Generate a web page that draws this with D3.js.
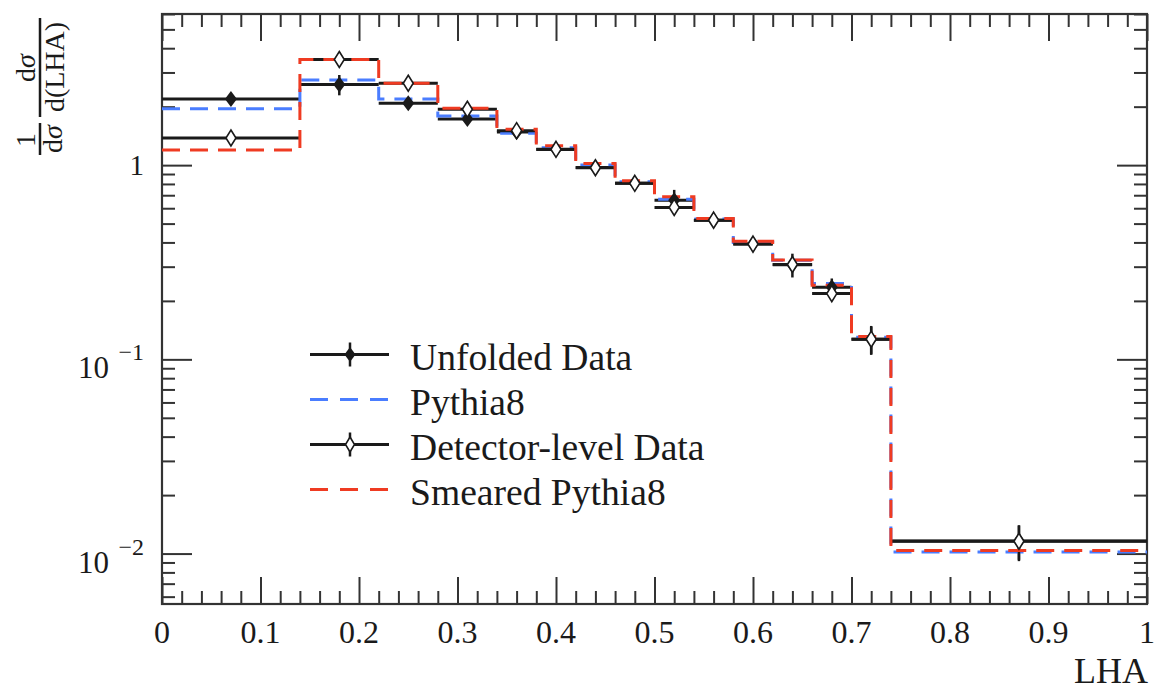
<!DOCTYPE html>
<html><head><meta charset="utf-8">
<script src="https://cdn.jsdelivr.net/npm/d3@7"></script>
<style>body{margin:0;background:#fff;} svg{display:block;}</style>
</head><body><svg id="c" width="1154" height="690"></svg>
<script>
// ---- data ----
const binEdges   = [0,0.14,0.22,0.28,0.34,0.38,0.42,0.46,0.50,0.54,0.58,0.62,0.66,0.70,0.74,1.0];
const binCenters = [0.07,0.18,0.25,0.31,0.36,0.40,0.44,0.48,0.52,0.56,0.60,0.64,0.68,0.72,0.87];
const unfolded    = [2.19,2.60,2.08,1.73,1.48,1.205,0.972,0.806,0.660,0.521,0.392,0.307,0.235,0.127,0.0116];
const unfoldedErr = [0.04,0.12,0.05,0.04,0.04,0.04,0.04,0.05,0.13,0.05,0.06,0.14,0.11,0.17,0.20];
const pythia8     = [1.95,2.74,2.19,1.79,1.46,1.229,1.001,0.820,0.667,0.528,0.400,0.324,0.246,0.130,0.0102];
const detector    = [1.38,3.50,2.64,1.94,1.505,1.206,0.970,0.806,0.606,0.521,0.392,0.308,0.218,0.127,0.01157];
const detectorErr = [0.02,0.02,0.02,0.02,0.02,0.02,0.03,0.03,0.04,0.05,0.05,0.06,0.07,0.16,0.21];
const smeared     = [1.195,3.50,2.64,1.96,1.53,1.259,1.021,0.831,0.688,0.531,0.405,0.325,0.241,0.131,0.01036];
const xTickValues = [0,0.1,0.2,0.3,0.4,0.5,0.6,0.7,0.8,0.9,1];
const xTickLabels = ["0","0.1","0.2","0.3","0.4","0.5","0.6","0.7","0.8","0.9","1"];
const yMajorValues = [0.01,0.1,1];
const yMajorBase   = ["10","10","1"];
const yMajorExp    = ["\u22122","\u22121",""];
const legendLabels = ["Unfolded Data","Pythia8","Detector-level Data","Smeared Pythia8"];

// ---- setup ----
const BLUE = "#4a7dff", RED = "#ef3b22", INK = "#1a1a1a";
const svg = d3.select("#c");
const X0 = 162, X1 = 1147, Y0 = 14, Y1 = 604;
const x = d3.scaleLinear().domain([0,1]).range([X0,X1]);
const y = d3.scaleLog().domain([0.0055,6]).range([Y1,Y0]);
const FONT = "'Liberation Serif','DejaVu Serif',serif";

svg.append("defs").append("clipPath").attr("id","clip")
  .append("rect").attr("x",X0).attr("y",Y0).attr("width",X1-X0).attr("height",Y1-Y0);

// ---- ticks ----
const xMinor = d3.range(0,51).filter(i=>i%5!==0).map(i=>i/50);
const yAll = y.ticks();
const yMinor = yAll.filter(v => Math.abs(Math.log10(v) - Math.round(Math.log10(v))) > 1e-6);
function styleAxis(g){ g.select(".domain").remove(); g.selectAll(".tick line").attr("stroke","#333").attr("stroke-width",2); g.selectAll(".tick text").remove(); }
const tickDefs = [
  [d3.axisBottom, x, xMinor, 13, `translate(0,${Y1})`],
  [d3.axisBottom, x, xTickValues, 27, `translate(0,${Y1})`],
  [d3.axisTop, x, xMinor, 13, `translate(0,${Y0})`],
  [d3.axisTop, x, xTickValues, 27, `translate(0,${Y0})`],
  [d3.axisLeft, y, yMinor, 13, `translate(${X0},0)`],
  [d3.axisLeft, y, yMajorValues, 30, `translate(${X0},0)`],
  [d3.axisRight, y, yMinor, 13, `translate(${X1},0)`],
  [d3.axisRight, y, yMajorValues, 30, `translate(${X1},0)`],
];
tickDefs.forEach(([ax, sc, vals, len, tr]) => {
  svg.append("g").attr("transform", tr)
    .call(ax(sc).tickValues(vals).tickSizeInner(-len).tickSizeOuter(0).tickFormat(""))
    .call(styleAxis);
});

// frame
svg.append("rect").attr("x",X0).attr("y",Y0).attr("width",X1-X0).attr("height",Y1-Y0)
  .attr("fill","none").attr("stroke","#333").attr("stroke-width",2.2);

// tick labels
svg.append("g").selectAll("text").data(xTickValues).join("text")
  .attr("x", d=>x(d)).attr("y", 643).attr("text-anchor","middle")
  .attr("font-family",FONT).attr("font-size",32).attr("fill",INK)
  .text((d,i)=>xTickLabels[i]);

const yl = svg.append("g");
yMajorValues.forEach((v,i)=>{
  const yy = y(v);
  if (yMajorExp[i]) {
    yl.append("text").attr("x",109).attr("y",yy+19).attr("text-anchor","end")
      .attr("font-family",FONT).attr("font-size",31).attr("fill",INK).text(yMajorBase[i]);
    yl.append("text").attr("x",144).attr("y",yy+1).attr("text-anchor","end")
      .attr("font-family",FONT).attr("font-size",24).attr("fill",INK).text(yMajorExp[i]);
  } else {
    yl.append("text").attr("x",144).attr("y",yy+10).attr("text-anchor","end")
      .attr("font-family",FONT).attr("font-size",29).attr("fill",INK).text(yMajorBase[i]);
  }
});

// x axis title
svg.append("text").attr("x",1148).attr("y",683).attr("text-anchor","end")
  .attr("font-family",FONT).attr("font-size",36).attr("fill",INK).text("LHA");

// y axis title (rotated fraction)
const yt = svg.append("g").attr("transform","translate(40,160) rotate(-90)")
  .attr("font-family",FONT).attr("font-size",28).attr("fill",INK);
yt.append("line").attr("x1",5).attr("x2",37).attr("y1",0).attr("y2",0).attr("stroke",INK).attr("stroke-width",2.5);
yt.append("line").attr("x1",43).attr("x2",142).attr("y1",0).attr("y2",0).attr("stroke",INK).attr("stroke-width",2.5);
yt.append("text").attr("x",20).attr("y",-5).attr("text-anchor","middle").text("1");
const t1 = yt.append("text").attr("x",21).attr("y",22).attr("text-anchor","middle");
t1.append("tspan").text("d"); t1.append("tspan").attr("font-style","italic").text("σ");
const t2 = yt.append("text").attr("x",92).attr("y",-5).attr("text-anchor","middle");
t2.append("tspan").text("d"); t2.append("tspan").attr("font-style","italic").text("σ");
yt.append("text").attr("x",93).attr("y",24).attr("text-anchor","middle").text("d(LHA)");

// ---- series ----
const plot = svg.append("g").attr("clip-path","url(#clip)");
const step = d3.line().x(d=>x(d[0])).y(d=>y(d[1])).curve(d3.curveStepAfter);
function histPts(vals){ const p = vals.map((v,i)=>[binEdges[i],v]); p.push([binEdges[binEdges.length-1], vals[vals.length-1]]); return p; }

function dataBars(vals, errs){
  const g = plot.append("g");
  vals.forEach((v,i)=>{
    g.append("line").attr("x1",x(binEdges[i])).attr("x2",x(binEdges[i+1]))
      .attr("y1",y(v)).attr("y2",y(v)).attr("stroke",INK).attr("stroke-width",3);
    g.append("line").attr("x1",x(binCenters[i])).attr("x2",x(binCenters[i]))
      .attr("y1",y(v*(1+errs[i]))).attr("y2",y(v*(1-errs[i]))).attr("stroke",INK).attr("stroke-width",2.5);
  });
}
function mcHist(vals, color){
  plot.append("path").attr("d",step(histPts(vals))).attr("fill","none")
    .attr("stroke",color).attr("stroke-width",3).attr("stroke-dasharray","18,10");
}
const diamond = (cx,cy,w,h)=>`M${cx},${cy-h}L${cx+w},${cy}L${cx},${cy+h}L${cx-w},${cy}Z`;

dataBars(unfolded, unfoldedErr);
mcHist(pythia8, BLUE);
dataBars(detector, detectorErr);
mcHist(smeared, RED);

// markers
plot.append("g").selectAll("path").data(unfolded).join("path")
  .attr("d",(v,i)=>diamond(x(binCenters[i]),y(v),6,8)).attr("fill",INK);
plot.append("g").selectAll("path").data(detector).join("path")
  .attr("d",(v,i)=>diamond(x(binCenters[i]),y(v),5,8)).attr("fill","#fff").attr("stroke",INK).attr("stroke-width",1.6);

// ---- legend ----
const lg = svg.append("g");
const LX0 = 310, LX1 = 389, LMX = 350, LY0 = 354.5, LDY = 45;
legendLabels.forEach((lab,i)=>{
  const cy = LY0 + i*LDY;
  if (i===0 || i===2) {
    lg.append("line").attr("x1",LX0).attr("x2",LX1).attr("y1",cy).attr("y2",cy).attr("stroke",INK).attr("stroke-width",3);
    lg.append("line").attr("x1",LMX).attr("x2",LMX).attr("y1",cy-12).attr("y2",cy+12).attr("stroke",INK).attr("stroke-width",2.5);
    if (i===0) lg.append("path").attr("d",diamond(LMX,cy,5.5,7.5)).attr("fill",INK);
    else lg.append("path").attr("d",diamond(LMX,cy,4.5,7.5)).attr("fill","#fff").attr("stroke",INK).attr("stroke-width",1.6);
  } else {
    lg.append("line").attr("x1",LX0).attr("x2",LX1).attr("y1",cy).attr("y2",cy)
      .attr("stroke", i===1?BLUE:RED).attr("stroke-width",3).attr("stroke-dasharray","18,12");
  }
  lg.append("text").attr("x",410).attr("y",cy+15).attr("font-family",FONT).attr("font-size",37.6)
    .attr("fill",INK).text(lab);
});
</script></body></html>
